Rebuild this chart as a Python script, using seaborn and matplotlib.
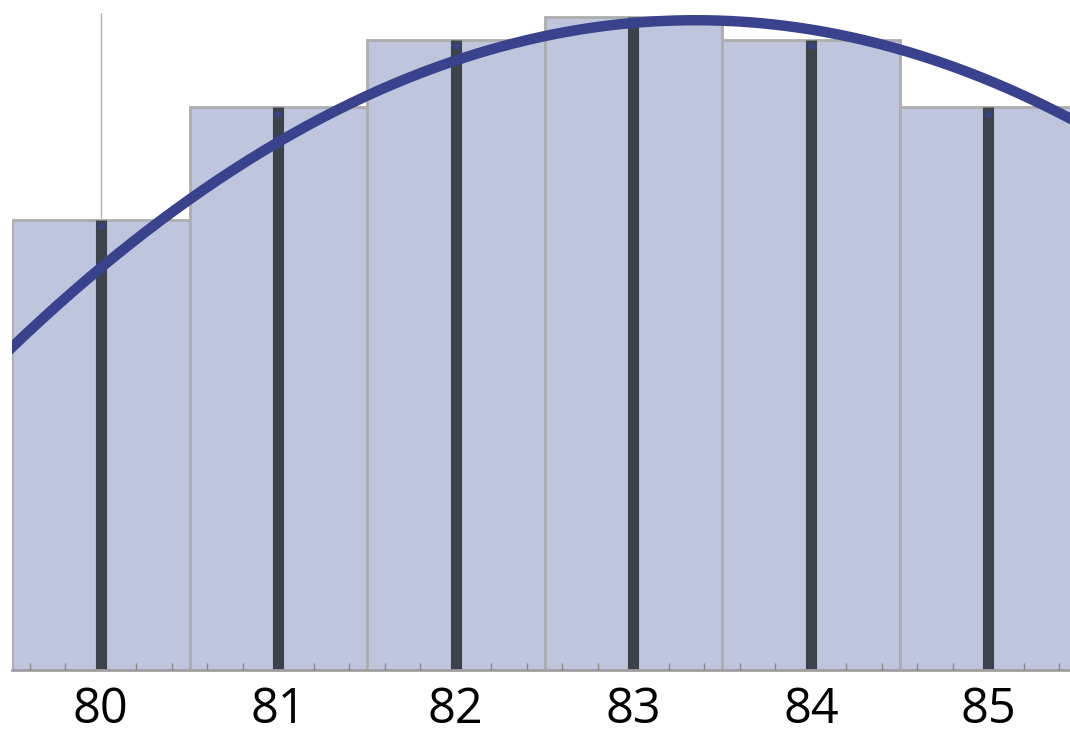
import numpy as np
import matplotlib.pyplot as plt
import seaborn as sns
from matplotlib.ticker import MultipleLocator

sns.set_style('white')
plt.rcParams['font.family'] = ['Open Sans', 'DejaVu Sans']

# data
values = [80, 81, 82, 83, 84, 85]
counts = [20, 25, 28, 29, 28, 25]
# fitted curve (quadratic), parameters
curve_top = 28.86
curve_center = 83.35
curve_k = 0.98

bar_color = '#bec5dc'
edge_color = '#adadad'
stem_color = '#3e434b'
curve_color = '#39428c'

fig = plt.figure(figsize=(10.70, 7.34), dpi=100)
ax = fig.add_axes([12/1070, 64/734, 1 - 12/1070, 657/734])
ax.set_axisbelow(False)

# thin axis line at 80
ax.axvline(80, color='#b0b0b0', linewidth=1, zorder=0)

ax.bar(values, counts, width=1.0, color=bar_color, edgecolor=edge_color,
       linewidth=2, zorder=1)
ax.vlines(values, 0, counts, color=stem_color, linewidth=8, zorder=2)
ax.scatter(values, np.array(counts) - 0.3, s=22, color=curve_color, zorder=3, linewidths=0)

xs = np.linspace(79.4, 85.6, 300)
ys = curve_top - curve_k * (xs - curve_center) ** 2
sns.lineplot(x=xs, y=ys, color=curve_color, linewidth=7.5, ax=ax, zorder=4)

ax.set_xlim(79.5, 85.46)
ax.set_ylim(0, 29.18)
ax.set_yticks([])
ax.set_xticks(values)
ax.xaxis.set_minor_locator(MultipleLocator(0.2))
ax.tick_params(axis='x', which='major', labelsize=35, labelcolor='black',
               length=0, pad=11)
ax.tick_params(axis='x', which='minor', direction='in', length=5, width=1,
               color='#8a8a8a', bottom=True)
for s in ['top', 'right', 'left']:
    ax.spines[s].set_visible(False)
ax.spines['bottom'].set_color('#a0a0a0')
ax.spines['bottom'].set_linewidth(2)
ax.patch.set_alpha(0)

plt.savefig('out.png', dpi=100)
